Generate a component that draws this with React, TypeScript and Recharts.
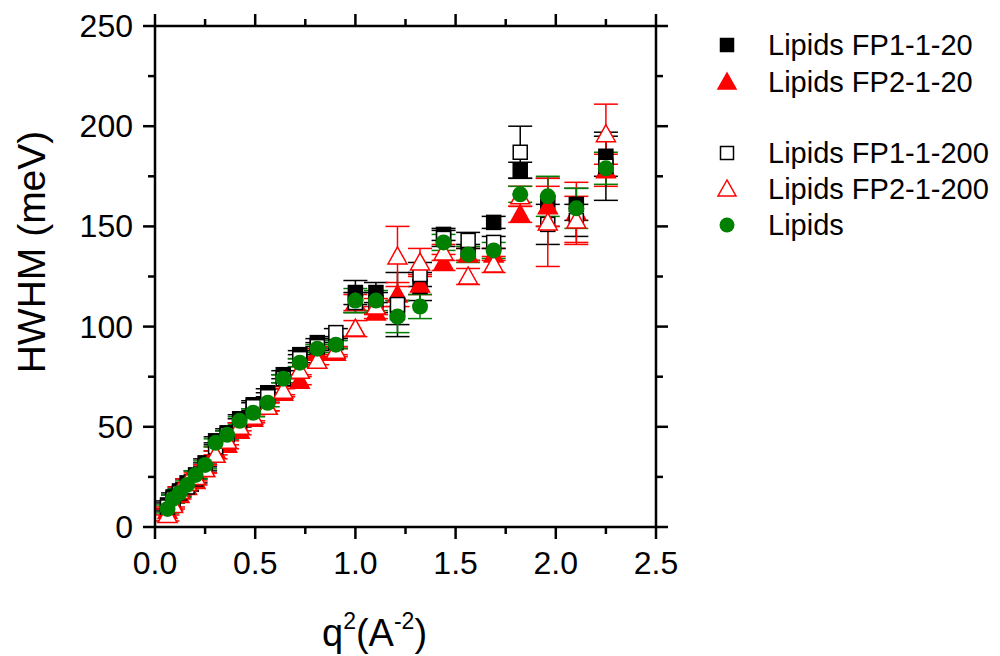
import React from 'react';
import { ScatterChart, Scatter, XAxis, YAxis, ErrorBar, Legend } from 'recharts';

const qSquared = [0.0625, 0.09, 0.1225, 0.16, 0.2025, 0.25, 0.3025, 0.36, 0.4225, 0.49, 0.5625, 0.64, 0.7225, 0.81, 0.9025, 1.0, 1.1025, 1.21, 1.3225, 1.44, 1.5625, 1.69, 1.8225, 1.96, 2.1025, 2.25];

const fp1_20 = [11, 15, 18, 22, 26, 32, 43, 47, 54, 61, 67, 76, 86, 92, 92, 117, 117, 107, 120, 146, 137, 152, 178, 162, 161, 185];
const fp1_20Err = [2, 2, 2, 2, 2, 2, 2, 2, 2, 2, 2, 2, 2, 2, 2, 6, 5, 6, 7, 3, 4, 3, 4, 12, 8, 10];

const fp2_20 = [8, 12, 16, 20, 23, 29, 38, 41, 48, 54, 60, 67, 73, 87, 87, 112, 107, 116, 121, 132, 136, 136, 156, 160, 157, 178];
const fp2_20Err = [2, 2, 2, 2, 2, 2, 2, 2, 2, 2, 2, 2, 2, 2, 2, 4, 3, 6, 5, 4, 3, 3, 4, 10, 15, 8];

const fp1_200 = [10, 14, 17, 20, 24, 30, 40, 46, 52, 60, 65, 74, 84, 90, 97, 112, 112, 111, 126, 144, 143, 142, 187, 151, 153, 180];
const fp1_200Err = [2, 2, 2, 2, 2, 2, 2, 2, 2, 2, 2, 2, 2, 2, 2, 5, 5, 16, 6, 4, 4, 3, 13, 10, 8, 17];

const fp2_200 = [6, 11, 18, 22, 25, 29, 36, 43, 50, 55, 60, 68, 78, 83, 88, 99, 110, 135, 132, 137, 125, 131, 165, 152, 153, 196];
const fp2_200Err = [3, 2, 2, 2, 2, 2, 2, 2, 2, 2, 2, 2, 2, 2, 2, 4, 4, 15, 7, 4, 4, 4, 5, 22, 12, 15];

const lipids = [9, 14, 17, 21, 26, 31, 42, 46, 53, 57, 62, 74, 82, 89, 91, 113, 113, 105, 110, 142, 136, 138, 166, 165, 159, 179];
const lipidsErr = [2, 2, 2, 2, 2, 2, 2, 2, 2, 2, 2, 2, 2, 2, 2, 6, 5, 8, 6, 4, 4, 4, 4, 10, 10, 8];

const xTicks = [0, 0.25, 0.5, 0.75, 1, 1.25, 1.5, 1.75, 2, 2.25, 2.5];
const yTicks = [0, 25, 50, 75, 100, 125, 150, 175, 200, 225, 250];

const FONT = '"Liberation Sans", Arial, sans-serif';
const GREEN = '#008000';
const RED = '#ff0000';

const toPoints = (ys: number[], errs: number[]) =>
  qSquared.map((x, i) => ({ x, y: ys[i], err: errs[i] }));

const squareShape = (fill: string) => (p: any) => (
  <rect x={p.cx - 7} y={p.cy - 7} width={14} height={14} fill={fill} stroke="#000" strokeWidth={1.5} />
);

const triangleShape = (fill: string) => (p: any) => (
  <polygon
    points={`${p.cx},${p.cy - 9.5} ${p.cx - 9.5},${p.cy + 7.5} ${p.cx + 9.5},${p.cy + 7.5}`}
    fill={fill}
    stroke={RED}
    strokeWidth={1.5}
  />
);

const circleShape = (p: any) => <circle cx={p.cx} cy={p.cy} r={8} fill={GREEN} />;

const isMajorX = (v: number) => Math.abs(v * 2 - Math.round(v * 2)) < 1e-6;

const BottomTick = (props: any) => {
  const { x, y, payload } = props;
  const major = isMajorX(payload.value);
  return (
    <g>
      <line x1={x} y1={y} x2={x} y2={y + (major ? 12 : 7)} stroke="#000" strokeWidth={2.5} />
      {major && (
        <text x={x} y={y + 36} textAnchor="middle" dominantBaseline="central" fontSize={32} fontFamily={FONT} fill="#000">
          {payload.value.toFixed(1)}
        </text>
      )}
    </g>
  );
};

const TopTick = (props: any) => {
  const { x, y, payload } = props;
  const major = isMajorX(payload.value);
  return <line x1={x} y1={y} x2={x} y2={y - (major ? 12 : 7)} stroke="#000" strokeWidth={2.5} />;
};

const LeftTick = (props: any) => {
  const { x, y, payload } = props;
  const major = payload.value % 50 === 0;
  return (
    <g>
      <line x1={x} y1={y} x2={x - (major ? 12 : 7)} y2={y} stroke="#000" strokeWidth={2.5} />
      {major && (
        <text x={x - 22} y={y} textAnchor="end" dominantBaseline="central" fontSize={32} fontFamily={FONT} fill="#000">
          {payload.value}
        </text>
      )}
    </g>
  );
};

const RightTick = (props: any) => {
  const { x, y, payload } = props;
  const major = payload.value % 50 === 0;
  return <line x1={x} y1={y} x2={x + (major ? 12 : 7)} y2={y} stroke="#000" strokeWidth={2.5} />;
};

const legendRows = [
  { label: 'Lipids FP1-1-20', kind: 'fsq', y: 25 },
  { label: 'Lipids FP2-1-20', kind: 'ftri', y: 62 },
  { label: 'Lipids FP1-1-200', kind: 'osq', y: 133 },
  { label: 'Lipids FP2-1-200', kind: 'otri', y: 169 },
  { label: 'Lipids', kind: 'circ', y: 205 },
];

const legendSquare = (fill: string, cx: number, cy: number) => (
  <rect x={cx - 6.5} y={cy - 6.5} width={13} height={13} fill={fill} stroke="#000" strokeWidth={1.5} />
);

const legendTriangle = (fill: string, cx: number, cy: number) => (
  <polygon
    points={`${cx},${cy - 9} ${cx - 9},${cy + 7} ${cx + 9},${cy + 7}`}
    fill={fill}
    stroke={RED}
    strokeWidth={1.5}
  />
);

const LegendBox = () => (
  <svg width={300} height={230}>
    {legendRows.map((r) => {
      const cx = 27;
      const cy = r.y;
      let sym = null;
      if (r.kind === 'fsq') sym = legendSquare('#000', cx, cy);
      if (r.kind === 'osq') sym = legendSquare('#fff', cx, cy);
      if (r.kind === 'ftri') sym = legendTriangle(RED, cx, cy);
      if (r.kind === 'otri') sym = legendTriangle('#fff', cx, cy);
      if (r.kind === 'circ') sym = <circle cx={cx} cy={cy} r={7.5} fill={GREEN} />;
      return (
        <g key={r.label}>
          {sym}
          <text x={68} y={cy} dominantBaseline="central" fontSize={29} fontFamily={FONT} fill="#000">
            {r.label}
          </text>
        </g>
      );
    })}
  </svg>
);

export default function App() {
  return (
    <div style={{ position: 'absolute', left: 0, top: 0, width: 1000, height: 656, background: '#fff' }}>
      <ScatterChart width={1000} height={656} margin={{ top: 0, right: 324, bottom: 0, left: 0 }}>
        <XAxis
          xAxisId="bottom"
          type="number"
          dataKey="x"
          domain={[0, 2.5]}
          ticks={xTicks}
          interval={0}
          orientation="bottom"
          height={129}
          tickSize={0}
          tickMargin={0}
          tickLine={false}
          tick={BottomTick}
          axisLine={{ stroke: '#000', strokeWidth: 2.5 }}
          allowDataOverflow
          label={() => (
            <text x={322} y={646} fontSize={38} fontFamily={FONT} fill="#000">
              q<tspan fontSize={23} dy={-17}>2</tspan>
              <tspan fontSize={38} dy={17}>(A</tspan>
              <tspan fontSize={23} dy={-17}>-2</tspan>
              <tspan fontSize={38} dy={17}>)</tspan>
            </text>
          )}
        />
        <XAxis
          xAxisId="top"
          type="number"
          dataKey="x"
          domain={[0, 2.5]}
          ticks={xTicks}
          interval={0}
          orientation="top"
          height={26}
          tickSize={0}
          tickMargin={0}
          tickLine={false}
          tick={TopTick}
          axisLine={{ stroke: '#000', strokeWidth: 2.5 }}
          allowDataOverflow
        />
        <YAxis
          yAxisId="left"
          type="number"
          dataKey="y"
          domain={[0, 250]}
          ticks={yTicks}
          interval={0}
          orientation="left"
          width={155}
          tickSize={0}
          tickMargin={0}
          tickLine={false}
          tick={LeftTick}
          axisLine={{ stroke: '#000', strokeWidth: 2.5 }}
          allowDataOverflow
          label={() => (
            <text x={31} y={252} transform="rotate(-90 31 252)" textAnchor="middle" dominantBaseline="central" fontSize={39} fontFamily={FONT} fill="#000">
              HWHM (meV)
            </text>
          )}
        />
        <YAxis
          yAxisId="right"
          type="number"
          dataKey="y"
          domain={[0, 250]}
          ticks={yTicks}
          interval={0}
          orientation="right"
          width={20}
          tickSize={0}
          tickMargin={0}
          tickLine={false}
          tick={RightTick}
          axisLine={{ stroke: '#000', strokeWidth: 2.5 }}
          allowDataOverflow
        />
        <Legend
          layout="vertical"
          align="center"
          verticalAlign="middle"
          content={LegendBox}
          wrapperStyle={{ position: 'absolute', left: 700, top: 20, width: 300, height: 230 }}
        />
        <Scatter name="Lipids FP1-1-20" xAxisId="bottom" yAxisId="left" data={toPoints(fp1_20, fp1_20Err)} shape={squareShape('#000')} isAnimationActive={false}>
          <ErrorBar dataKey="err" direction="y" width={12} stroke="#000" strokeWidth={1.5} />
        </Scatter>
        <Scatter name="Lipids FP2-1-20" xAxisId="bottom" yAxisId="left" data={toPoints(fp2_20, fp2_20Err)} shape={triangleShape(RED)} isAnimationActive={false}>
          <ErrorBar dataKey="err" direction="y" width={12} stroke={RED} strokeWidth={1.5} />
        </Scatter>
        <Scatter name="Lipids FP1-1-200" xAxisId="bottom" yAxisId="left" data={toPoints(fp1_200, fp1_200Err)} shape={squareShape('#fff')} isAnimationActive={false}>
          <ErrorBar dataKey="err" direction="y" width={12} stroke="#000" strokeWidth={1.5} />
        </Scatter>
        <Scatter name="Lipids FP2-1-200" xAxisId="bottom" yAxisId="left" data={toPoints(fp2_200, fp2_200Err)} shape={triangleShape('#fff')} isAnimationActive={false}>
          <ErrorBar dataKey="err" direction="y" width={12} stroke={RED} strokeWidth={1.5} />
        </Scatter>
        <Scatter name="Lipids" xAxisId="bottom" yAxisId="left" data={toPoints(lipids, lipidsErr)} shape={circleShape} isAnimationActive={false}>
          <ErrorBar dataKey="err" direction="y" width={12} stroke={GREEN} strokeWidth={1.5} />
        </Scatter>
      </ScatterChart>
    </div>
  );
}
